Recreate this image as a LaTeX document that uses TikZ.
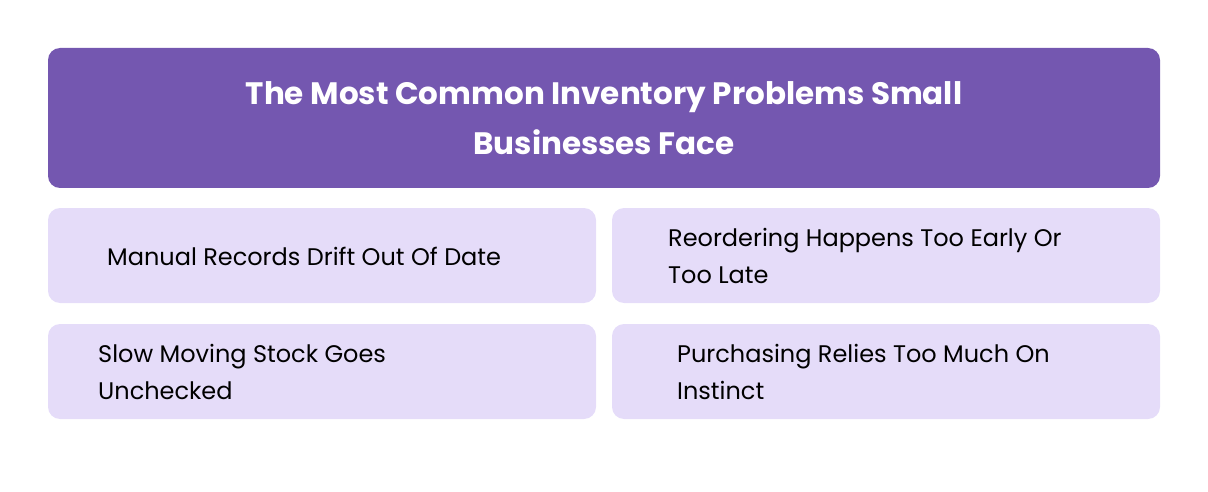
\documentclass[tikz,border=0pt]{standalone}
\usepackage{fontspec}
\setmainfont{Poppins}
\begin{document}
\begin{tikzpicture}[x=1pt,y=-1pt,
  head/.style={fill=hdr,rounded corners=12pt},
  card/.style={fill=crd,rounded corners=12pt},
  txt/.style={anchor=west,align=left,font=\fontsize{24}{37}\selectfont,text=black,inner sep=0pt}]
\definecolor{hdr}{HTML}{7457B0}
\definecolor{crd}{HTML}{E5DCF9}
\path[use as bounding box] (0,0) rectangle (1208,492);
\fill[head] (48,48) rectangle (1160,188);
\node[font=\bfseries\fontsize{31}{50}\selectfont,text=white,align=center] (title) at (604,118) {The Most Common Inventory Problems Small\\Businesses Face};
\fill[card] (48,208) rectangle (596,303);
\fill[card] (612,208) rectangle (1160,303);
\fill[card] (48,324) rectangle (596,419);
\fill[card] (612,324) rectangle (1160,419);
\node[txt] (a) at (107,256) {Manual Records Drift Out Of Date};
\node[txt] (b) at (668,256) {Reordering Happens Too Early Or\\Too Late};
\node[txt] (c) at (98,372) {Slow Moving Stock Goes\\Unchecked};
\node[txt] (d) at (677,372) {Purchasing Relies Too Much On\\Instinct};
\end{tikzpicture}
\end{document}
